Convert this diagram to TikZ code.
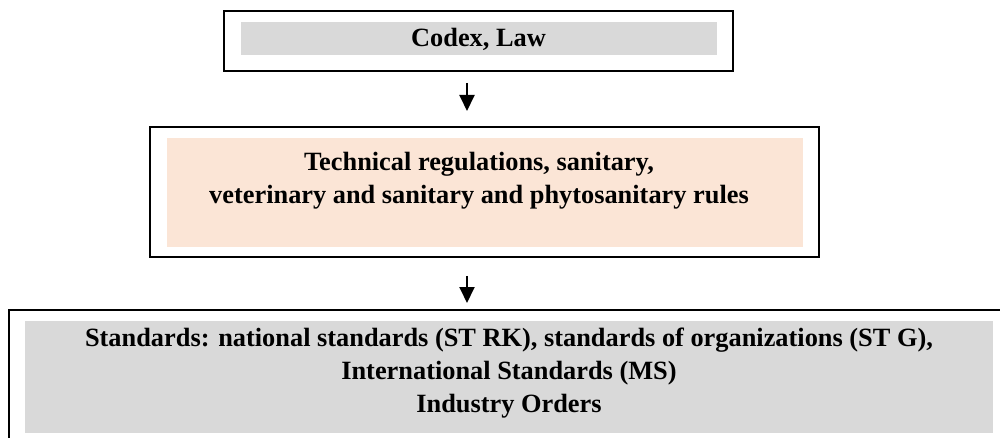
\documentclass[tikz,border=0pt]{standalone}
\usepackage{fontspec}
\setmainfont{Liberation Serif}
\usetikzlibrary{arrows.meta}
\definecolor{boxgray}{HTML}{D9D9D9}
\definecolor{boxpeach}{HTML}{FBE5D6}

\begin{document}
\begin{tikzpicture}[x=0.02cm, y=-0.02cm,
	frame/.style={draw=black, line width=1.1pt, inner sep=0pt},
	fillbox/.style={inner sep=0pt},
	label/.style={font=\fontsize{15}{18.7}\selectfont\bfseries, align=center, inner sep=0pt},
	arr/.style={line width=1.1pt, -{Triangle[length=0.32cm, width=0.3cm]}}]
				\useasboundingbox (0,0) rectangle (1000,438);
				
				% Верхний блок
				\node[frame, minimum width=10.18cm, minimum height=1.2cm] (codex) at (478.5,41) {};
				\node[fillbox, fill=boxgray, minimum width=9.52cm, minimum height=0.66cm] (codexfill) at (479,38.5) {};
				\node[label, anchor=base] (codextext) at (478.5,47) {Codex, Law};
				
				% Средний блок
				\node[frame, minimum width=13.38cm, minimum height=2.6cm] (techreg) at (484.5,192) {};
				\node[fillbox, fill=boxpeach, minimum width=12.72cm, minimum height=2.18cm] (techregfill) at (485,192.5) {};
				\node[label, anchor=north] (techregtext) at (479,152) {Technical regulations, sanitary,\\veterinary and sanitary and phytosanitary rules};
				
				% Нижний блок
				\node[frame, minimum width=20.02cm, minimum height=2.7cm] (standards) at (509.5,377.5) {};
				\node[fillbox, fill=boxgray, minimum width=19.36cm, minimum height=2.24cm] (standardsfill) at (509,377) {};
				\node[label, anchor=north] (standardstext) at (509,328) {Standards: national standards (ST RK), standards of organizations (ST G),\\International Standards (MS)\\Industry Orders};
				
				% Стрелки
				\coordinate (arrAtop) at (467,83);
				\coordinate (arrAbot) at (467,111);
				\coordinate (arrBtop) at (467,276);
				\coordinate (arrBbot) at (467,303);
				\draw[arr] (arrAtop) -- (arrAbot);
				\draw[arr] (arrBtop) -- (arrBbot);
			\end{tikzpicture}
\end{document}
